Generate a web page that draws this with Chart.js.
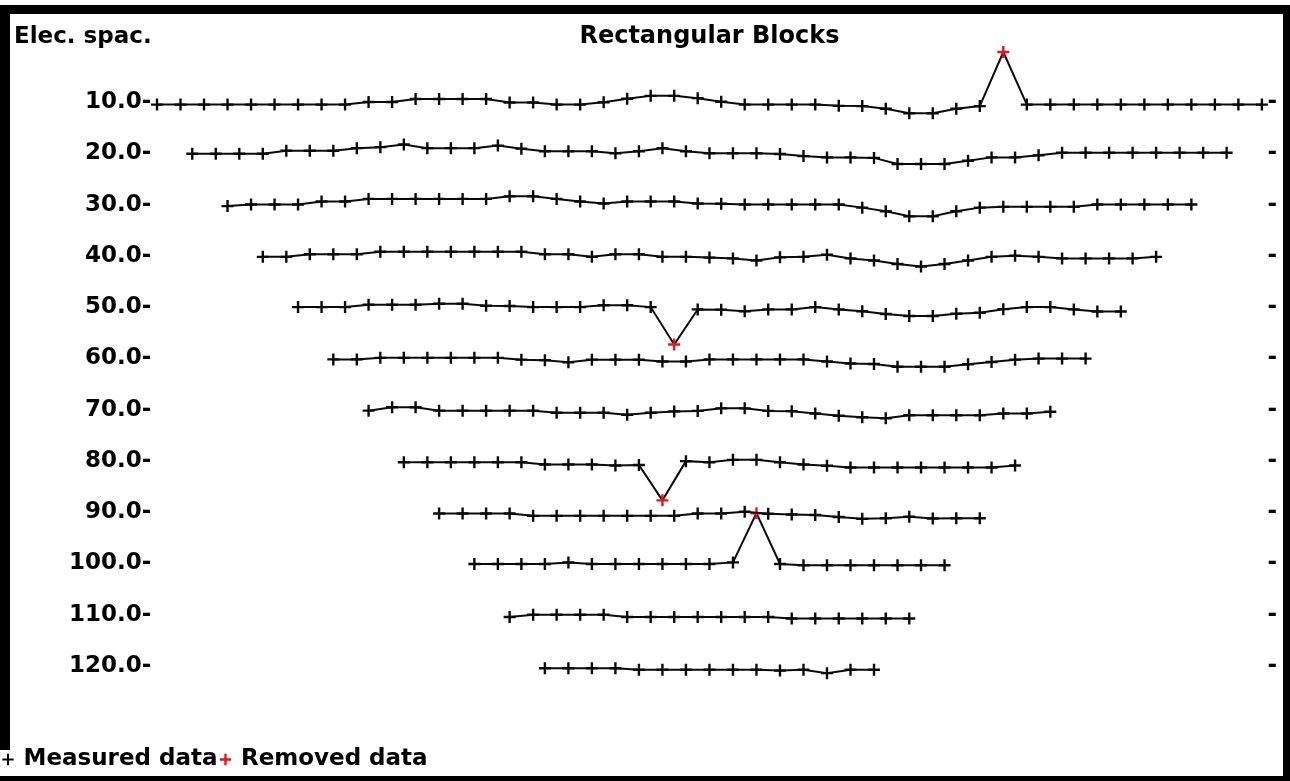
<!DOCTYPE html>
<html>
<head>
<meta charset="utf-8">
<script src="https://cdn.jsdelivr.net/npm/chart.js@4.4.1/dist/chart.umd.min.js"></script>
<style>
  html, body { margin: 0; padding: 0; background: #fff; }
  #wrap { position: relative; width: 1290px; height: 781px; }
</style>
</head>
<body>
<div id="wrap"><canvas id="myChart"></canvas></div>
<script>
// Niveaux (espacement des électrodes) et libellés de l'axe
const levels = [10, 20, 30, 40, 50, 60, 70, 80, 90, 100, 110, 120];
const levelLabels = ['10.0', '20.0', '30.0', '40.0', '50.0', '60.0', '70.0', '80.0', '90.0', '100.0', '110.0', '120.0'];
const unitSpacing = 10; // pas entre deux stations

// Ecart de chaque mesure par rapport à son niveau (vers le haut = positif)
const row10 = [-0.5, -0.5, -0.5, -0.5, -0.5, -0.5, -0.5, -0.5, -0.5, 0, 0, 0.6, 0.6, 0.6, 0.6, -0.1, -0.1, -0.5, -0.5, -0.05, 0.65, 1.2, 1.2, 0.75, 0.05, -0.5, -0.5, -0.5, -0.5, -0.75, -0.8, -1.3, -2.2, -2.2, -1.3, -0.8, 9.75, -0.5, -0.5, -0.5, -0.5, -0.5, -0.5, -0.5, -0.5, -0.5, -0.5, -0.5];
const row20 = [-0.1, -0.1, -0.1, -0.1, 0.5, 0.5, 0.5, 1.0, 1.2, 1.7, 1.0, 1.0, 1.0, 1.5, 0.9, 0.4, 0.4, 0.4, 0, 0.4, 1.0, 0.4, 0, 0, 0, -0.15, -0.55, -0.8, -0.8, -0.9, -2.1, -2.1, -2.1, -1.45, -0.8, -0.8, -0.4, 0.1, 0.1, 0.1, 0.1, 0.1, 0.1, 0.1, 0.1];
const row30 = [-0.3, 0, 0, 0, 0.6, 0.6, 1.1, 1.1, 1.1, 1.1, 1.1, 1.1, 1.6, 1.6, 1.1, 0.6, 0.2, 0.6, 0.6, 0.6, 0.2, 0.15, 0, 0, 0, 0, 0, -0.6, -1.3, -2.3, -2.3, -1.3, -0.6, -0.45, -0.45, -0.45, -0.45, 0, 0, 0, 0, 0];
const row40 = [-0.2, -0.2, 0.3, 0.3, 0.3, 0.8, 0.8, 0.8, 0.8, 0.8, 0.8, 0.8, 0.3, 0.3, -0.2, 0.3, 0.3, -0.2, -0.2, -0.35, -0.5, -0.9, -0.3, -0.2, 0.2, -0.5, -0.9, -1.6, -2.1, -1.6, -0.9, -0.2, 0, -0.2, -0.5, -0.5, -0.5, -0.5, -0.2];
const row50 = [0, 0, 0, 0.45, 0.45, 0.45, 0.65, 0.65, 0.25, 0.2, 0, 0, 0, 0.35, 0.35, 0, -7.3, -0.45, -0.5, -0.8, -0.45, -0.45, 0, -0.45, -0.8, -1.35, -1.75, -1.75, -1.3, -1.1, -0.4, 0, 0, -0.45, -0.85, -0.85];
const row60 = [-0.2, -0.2, 0.1, 0.1, 0.1, 0.1, 0.1, 0.1, -0.25, -0.35, -0.75, -0.25, -0.25, -0.25, -0.6, -0.6, -0.2, -0.2, -0.2, -0.2, -0.2, -0.6, -1.0, -1.1, -1.65, -1.65, -1.65, -1.15, -0.7, -0.25, -0.05, -0.05, -0.05];
const row70 = [-0.2, 0.45, 0.45, -0.2, -0.2, -0.2, -0.2, -0.2, -0.6, -0.6, -0.6, -1.0, -0.6, -0.35, -0.25, 0.25, 0.25, -0.25, -0.3, -0.75, -1.2, -1.5, -1.7, -1.1, -1.1, -1.1, -1.1, -0.75, -0.75, -0.4];
const row80 = [-0.25, -0.25, -0.25, -0.25, -0.25, -0.25, -0.7, -0.7, -0.7, -0.9, -0.8, -7.7, -0.05, -0.25, 0.2, 0.2, -0.25, -0.7, -0.95, -1.3, -1.3, -1.3, -1.3, -1.3, -1.3, -1.3, -0.9];
const row90 = [-0.25, -0.25, -0.25, -0.25, -0.72, -0.72, -0.72, -0.72, -0.72, -0.72, -0.72, -0.25, -0.25, 0.1, -0.3, -0.45, -0.55, -0.95, -1.3, -1.2, -0.9, -1.25, -1.2, -1.2];
const row100 = [-0.1, -0.1, -0.1, -0.1, 0.2, -0.1, -0.1, -0.1, -0.1, -0.1, -0.1, 0.2, 9.8, -0.1, -0.35, -0.35, -0.35, -0.35, -0.35, -0.35, -0.35];
const row110 = [-0.45, 0, 0, 0, 0, -0.45, -0.45, -0.45, -0.45, -0.45, -0.45, -0.45, -0.75, -0.75, -0.75, -0.75, -0.75, -0.75];
const row120 = [-0.45, -0.45, -0.45, -0.45, -0.75, -0.75, -0.75, -0.75, -0.75, -0.75, -0.9, -0.75, -1.4, -0.75, -0.75];
const rows = [row10, row20, row30, row40, row50, row60, row70, row80, row90, row100, row110, row120];

// Mesures supprimées : niveau et rang de la mesure
const removedLevels = [10, 50, 80, 100];
const removedIndex = [36, 16, 11, 12];

const black = '#0a0a0a';
const red = '#e3141e';
const font = 'DejaVu Sans';

function isRemoved(level, i) {
    for (var r = 0; r < removedLevels.length; r++) {
        if (removedLevels[r] === level && removedIndex[r] === i) return true;
    }
    return false;
}

// Construire un jeu de données par niveau
var datasets = [];
for (var k = 0; k < levels.length; k++) {
    var a = levels[k];
    var points = [];
    var pointColors = [];
    for (var i = 0; i < rows[k].length; i++) {
        points.push({ x: 1.5 * a + unitSpacing * i, y: a - rows[k][i] });
        pointColors.push(isRemoved(a, i) ? red : black);
    }
    datasets.push({
        label: levelLabels[k],
        data: points,
        borderColor: black,
        borderWidth: 2,
        pointStyle: 'cross',
        pointRadius: 6,
        pointBorderWidth: 2.4,
        pointBorderColor: pointColors,
        pointBackgroundColor: pointColors,
        tension: 0,
        clip: false
    });
}

// Cadre noir et texte "Elec. spac."
const frame = {
    id: 'frame',
    beforeDraw: function (chart) {
        const c = chart.ctx, w = chart.width, h = chart.height;
        c.save();
        c.fillStyle = '#fff';
        c.fillRect(0, 0, w, h);
        c.fillStyle = '#000';
        c.fillRect(0, 5, w, 9);
        c.fillRect(0, 5, 10, h - 5);
        c.fillRect(w - 7, 5, 7, h - 5);
        c.fillRect(0, h - 5, w, 5);
        c.fillStyle = '#fff';
        c.fillRect(0, 750, 12, h - 5 - 750);
        c.restore();
    },
    afterDraw: function (chart) {
        const c = chart.ctx;
        c.save();
        c.fillStyle = '#000';
        c.font = 'bold 23px "' + font + '"';
        c.textBaseline = 'middle';
        c.textAlign = 'left';
        c.fillText('Elec. spac.', 14, 37);
        c.restore();
    }
};

const ctx = document.getElementById('myChart');

new Chart(ctx, {
    type: 'line',
    data: { datasets: datasets },
    plugins: [frame],
    options: {
        responsive: true,
        maintainAspectRatio: false,
        animation: false,
        events: [],
        layout: { autoPadding: false, padding: 0 },
        scales: {
            x: { type: 'linear', display: false, min: 13, max: 487 },
            y: {
                type: 'linear', position: 'left', reverse: true, min: -0.34, max: 135.22,
                afterBuildTicks: function (axis) { axis.ticks = levels.map(function (v) { return { value: v }; }); },
                afterFit: function (axis) { axis.width = 152.3; },
                grid: { display: false, drawTicks: false },
                border: { display: false },
                ticks: {
                    autoSkip: false, padding: 1, color: '#000',
                    font: { family: font, weight: 'bold', size: 23 },
                    callback: function (v, i) { return levelLabels[i] + '-'; }
                }
            },
            y2: {
                type: 'linear', position: 'right', reverse: true, min: -0.34, max: 135.22,
                afterBuildTicks: function (axis) { axis.ticks = levels.map(function (v) { return { value: v }; }); },
                afterFit: function (axis) { axis.width = 23.4; },
                grid: { display: false, drawTicks: false },
                border: { display: false },
                ticks: {
                    autoSkip: false, padding: 1, color: '#000',
                    font: { family: font, weight: 'bold', size: 23 },
                    callback: function () { return '-'; }
                }
            }
        },
        plugins: {
            tooltip: { enabled: false },
            title: {
                display: true,
                text: 'Rectangular Blocks',
                fullSize: false,
                color: '#000',
                font: { family: font, weight: 'bold', size: 24, lineHeight: 1 },
                padding: { top: 25, bottom: 0 }
            },
            legend: {
                position: 'bottom',
                align: 'start',
                labels: {
                    usePointStyle: true,
                    boxWidth: 8,
                    boxHeight: 8,
                    padding: 4,
                    color: '#000',
                    font: { family: font, weight: 'bold', size: 23 },
                    generateLabels: function () {
                        return [
                            { text: 'Measured data', pointStyle: 'cross', strokeStyle: black, fillStyle: black, lineWidth: 2, hidden: false },
                            { text: 'Removed data', pointStyle: 'cross', strokeStyle: red, fillStyle: red, lineWidth: 2.4, hidden: false }
                        ];
                    }
                }
            }
        }
    }
});
</script>
</body>
</html>
